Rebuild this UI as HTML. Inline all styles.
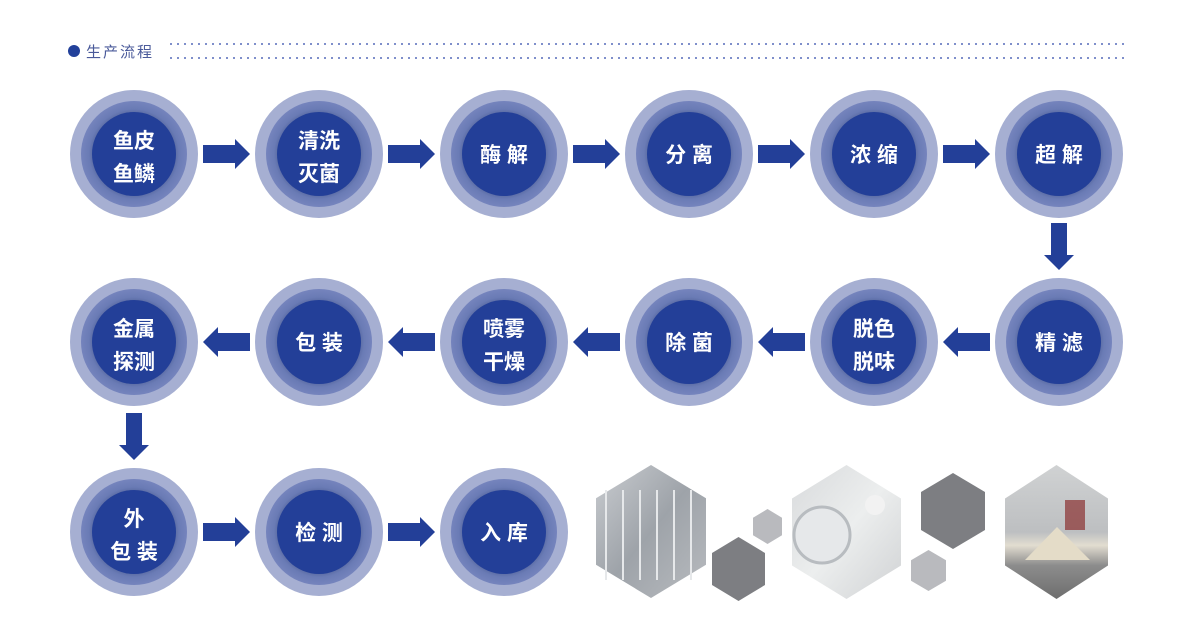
<!DOCTYPE html>
<html><head><meta charset="utf-8"><style>
html,body{margin:0;padding:0;background:#fff;}
svg{display:block;}
text{font-family:"Liberation Sans","Noto Sans CJK SC",sans-serif;}
</style></head><body>
<svg width="1197" height="629" viewBox="0 0 1197 629" xmlns="http://www.w3.org/2000/svg">
<defs>
<radialGradient id="mid" cx="50%" cy="50%" r="50%">
<stop offset="0.75" stop-color="#56679f"/><stop offset="0.85" stop-color="#6a7bb5"/><stop offset="1" stop-color="#7584bd"/>
</radialGradient>
<linearGradient id="p1" x1="0" y1="0" x2="1" y2="1"><stop offset="0" stop-color="#c9ccd0"/><stop offset="0.5" stop-color="#9ea3a9"/><stop offset="1" stop-color="#b8bbbf"/></linearGradient>
<linearGradient id="p2" x1="0" y1="0" x2="1" y2="1"><stop offset="0" stop-color="#d8dadc"/><stop offset="0.5" stop-color="#eceeee"/><stop offset="1" stop-color="#d0d2d4"/></linearGradient>
<linearGradient id="p3" x1="0" y1="0" x2="0" y2="1"><stop offset="0" stop-color="#d0d2d3"/><stop offset="0.5" stop-color="#bdbfc1"/><stop offset="0.6" stop-color="#e2ddd0"/><stop offset="0.75" stop-color="#8c8c8c"/><stop offset="1" stop-color="#6e6e6e"/></linearGradient>
</defs>
<circle cx="74" cy="51" r="6" fill="#22409a"/>
<text x="86" y="57" font-size="15" fill="#4a5a9a" letter-spacing="2">生产流程</text>
<line x1="170" y1="44" x2="1125" y2="44" stroke="#7f8fcb" stroke-width="2" stroke-dasharray="2,5"/>
<line x1="170" y1="58" x2="1125" y2="58" stroke="#7f8fcb" stroke-width="2" stroke-dasharray="2,5"/>
<g id="circles"></g>
</svg>
<script>
const svg=document.querySelector('svg');
const NS='http://www.w3.org/2000/svg';
function el(t,a,txt){const e=document.createElementNS(NS,t);for(const k in a)e.setAttribute(k,a[k]);if(txt)e.textContent=txt;svg.appendChild(e);return e;}
const xs=[134,319,504,689,874,1059];
const nodes=[
[0,154,['鱼皮','鱼鳞']],[1,154,['清洗','灭菌']],[2,154,['酶 解']],[3,154,['分 离']],[4,154,['浓 缩']],[5,154,['超 解']],
[5,342,['精 滤']],[4,342,['脱色','脱味']],[3,342,['除 菌']],[2,342,['喷雾','干燥']],[1,342,['包 装']],[0,342,['金属','探测']],
[0,532,['外','包 装']],[1,532,['检 测']],[2,532,['入 库']]];
for(const [i,cy,l] of nodes){const cx=xs[i];
el('circle',{cx,cy,r:64,fill:'#a6afd2'});
el('circle',{cx,cy,r:53,fill:'url(#mid)'});
el('circle',{cx,cy,r:42,fill:'#233f98'});
if(l.length==1) el('text',{x:cx,y:cy+8,'font-size':21,'font-weight':'bold',fill:'#fff','text-anchor':'middle'},l[0]);
else{el('text',{x:cx,y:cy-6,'font-size':21,'font-weight':'bold',fill:'#fff','text-anchor':'middle'},l[0]);
el('text',{x:cx,y:cy+27,'font-size':21,'font-weight':'bold',fill:'#fff','text-anchor':'middle'},l[1]);}
}
const C='#233f98';
function ar(x0,y,dir){ // horizontal arrow 47 wide
 if(dir>0) el('polygon',{points:`${x0},${y-9} ${x0+32},${y-9} ${x0+32},${y-15} ${x0+47},${y} ${x0+32},${y+15} ${x0+32},${y+9} ${x0},${y+9}`,fill:C});
 else el('polygon',{points:`${x0+47},${y-9} ${x0+15},${y-9} ${x0+15},${y-15} ${x0},${y} ${x0+15},${y+15} ${x0+15},${y+9} ${x0+47},${y+9}`,fill:C});}
function dn(x,y0){el('polygon',{points:`${x-8},${y0} ${x+8},${y0} ${x+8},${y0+32} ${x+15},${y0+32} ${x},${y0+47} ${x-15},${y0+32} ${x-8},${y0+32}`,fill:C});}
for(let i=0;i<5;i++) ar(xs[i]+69,154,1);
for(let i=0;i<5;i++) ar(xs[i]+69,342,-1);
ar(xs[0]+69,532,1);ar(xs[1]+69,532,1);
dn(1059,223);dn(134,413);
function hex(x1,x2,y1,y2,fill){const cx=(x1+x2)/2,h=(y2-y1)/4;
 return el('polygon',{points:`${cx},${y1} ${x2},${y1+h} ${x2},${y2-h} ${cx},${y2} ${x1},${y2-h} ${x1},${y1+h}`,fill});}
hex(596,706,465,598,'url(#p1)');
hex(753,782,509,544,'#b9babe');
hex(712,765,537,601,'#7d7e82');
hex(792,901,465,599,'url(#p2)');
hex(921,985,473,549,'#7d7e82');
hex(911,946,550,591,'#b9babe');
hex(1005,1108,465,599,'url(#p3)');
// photo details
el('circle',{cx:822,cy:535,r:28,fill:'#e6e8ea',stroke:'#b8bcc0','stroke-width':3});
el('circle',{cx:875,cy:505,r:10,fill:'#f2f2f2'});
el('polygon',{points:'1025,560 1057,527 1090,560',fill:'#e4dcc8'});
el('rect',{x:1065,y:500,width:20,height:30,fill:'#8a3030',opacity:0.7});
for(let k=0;k<6;k++) el('line',{x1:606+k*17,y1:490,x2:606+k*17,y2:580,stroke:'#e6e8ea','stroke-width':2});
</script>
</body></html>
